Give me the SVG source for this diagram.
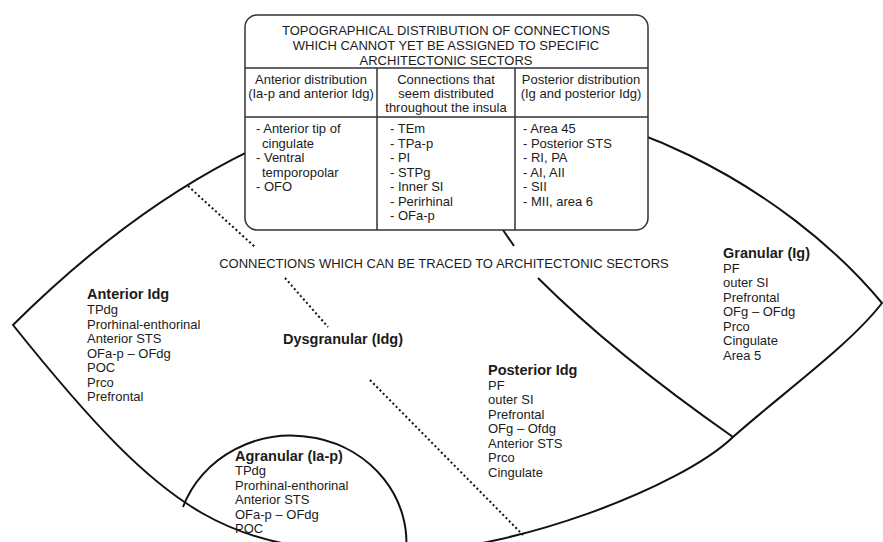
<svg xmlns="http://www.w3.org/2000/svg" width="883" height="542" viewBox="0 0 883 542">
<style>
  text { font-family: "Liberation Sans", Arial, sans-serif; fill: #1c1c1c; }
  .t { font-size: 13px; }
  .b { font-size: 14.5px; font-weight: bold; }
  .c { text-anchor: middle; }
  .edge { fill: none; stroke: #111; stroke-width: 2; }
  .dot { fill: none; stroke: #111; stroke-width: 2; stroke-dasharray: 2 2.6; }
  .tb { fill: none; stroke: #333; stroke-width: 1.5; }
</style>
<rect width="883" height="542" fill="#fff"/>
<g id="connectors">
  <path class="edge" d="M13,325 C153,186 310,98 460,98 C610,98 782,183 882,303 C850,345 780,395 733,437 C680,488 510,552 400,552 C230,552 173,525 13,325 Z"/>
  <path class="edge" d="M503,230 L514,246 M538,278 Q613,353 733,437"/>
  <path class="dot" d="M188,186 L255,247 M285,278 L328,327 M370,380 L523,535"/>
  <path class="edge" d="M183,507 A115,107 0 0 1 406,552"/>
</g>
<g id="table">
  <rect x="245" y="15" width="403" height="215" rx="12" fill="#fff" stroke="#333" stroke-width="1.5"/>
  <path class="tb" d="M245,68 H648 M245,117 H648 M377,68 V230 M515,68 V230"/>
  <text class="t c" x="446" y="35">TOPOGRAPHICAL DISTRIBUTION OF CONNECTIONS</text>
  <text class="t c" x="446" y="50">WHICH CANNOT YET BE ASSIGNED TO SPECIFIC</text>
  <text class="t c" x="446" y="65">ARCHITECTONIC SECTORS</text>
  <text class="t c" x="311" y="84">Anterior distribution</text>
  <text class="t c" x="311" y="98">(Ia-p and anterior Idg)</text>
  <text class="t c" x="446" y="84">Connections that</text>
  <text class="t c" x="446" y="98">seem distributed</text>
  <text class="t c" x="446" y="112">throughout the insula</text>
  <text class="t c" x="581" y="84">Posterior distribution</text>
  <text class="t c" x="581" y="98">(Ig and posterior Idg)</text>
  <text class="t" x="256" y="133">- Anterior tip of</text>
  <text class="t" x="262" y="147.5">cingulate</text>
  <text class="t" x="256" y="162">- Ventral</text>
  <text class="t" x="262" y="176.5">temporopolar</text>
  <text class="t" x="256" y="191">- OFO</text>
  <text class="t" x="390" y="133">- TEm</text>
  <text class="t" x="390" y="147.5">- TPa-p</text>
  <text class="t" x="390" y="162">- PI</text>
  <text class="t" x="390" y="176.5">- STPg</text>
  <text class="t" x="390" y="191">- Inner SI</text>
  <text class="t" x="390" y="205.5">- Perirhinal</text>
  <text class="t" x="390" y="220">- OFa-p</text>
  <text class="t" x="523" y="133">- Area 45</text>
  <text class="t" x="523" y="147.5">- Posterior STS</text>
  <text class="t" x="523" y="162">- RI, PA</text>
  <text class="t" x="523" y="176.5">- AI, AII</text>
  <text class="t" x="523" y="191">- SII</text>
  <text class="t" x="523" y="205.5">- MII, area 6</text>
</g>
<g id="traced-title">
  <text class="t c" x="444" y="268">CONNECTIONS WHICH CAN BE TRACED TO ARCHITECTONIC SECTORS</text>
</g>
<g id="anterior-idg">
  <text class="b" x="87" y="299">Anterior Idg</text>
  <text class="t" x="87" y="314">TPdg</text>
  <text class="t" x="87" y="328.5">Prorhinal-enthorinal</text>
  <text class="t" x="87" y="343">Anterior STS</text>
  <text class="t" x="87" y="357.5">OFa-p – OFdg</text>
  <text class="t" x="87" y="372">POC</text>
  <text class="t" x="87" y="386.5">Prco</text>
  <text class="t" x="87" y="401">Prefrontal</text>
</g>
<g id="dysgranular">
  <text class="b" x="283" y="344">Dysgranular (Idg)</text>
</g>
<g id="agranular">
  <text class="b" x="235" y="461">Agranular (Ia-p)</text>
  <text class="t" x="235" y="475">TPdg</text>
  <text class="t" x="235" y="489.5">Prorhinal-enthorinal</text>
  <text class="t" x="235" y="504">Anterior STS</text>
  <text class="t" x="235" y="518.5">OFa-p – OFdg</text>
  <text class="t" x="235" y="533">POC</text>
</g>
<g id="posterior-idg">
  <text class="b" x="488" y="375">Posterior Idg</text>
  <text class="t" x="488" y="389.5">PF</text>
  <text class="t" x="488" y="404">outer SI</text>
  <text class="t" x="488" y="418.5">Prefrontal</text>
  <text class="t" x="488" y="433">OFg – Ofdg</text>
  <text class="t" x="488" y="447.5">Anterior STS</text>
  <text class="t" x="488" y="462">Prco</text>
  <text class="t" x="488" y="476.5">Cingulate</text>
</g>
<g id="granular">
  <text class="b" x="723" y="258">Granular (Ig)</text>
  <text class="t" x="723" y="272.5">PF</text>
  <text class="t" x="723" y="287">outer SI</text>
  <text class="t" x="723" y="301.5">Prefrontal</text>
  <text class="t" x="723" y="316">OFg – OFdg</text>
  <text class="t" x="723" y="330.5">Prco</text>
  <text class="t" x="723" y="345">Cingulate</text>
  <text class="t" x="723" y="359.5">Area 5</text>
</g>
</svg>
